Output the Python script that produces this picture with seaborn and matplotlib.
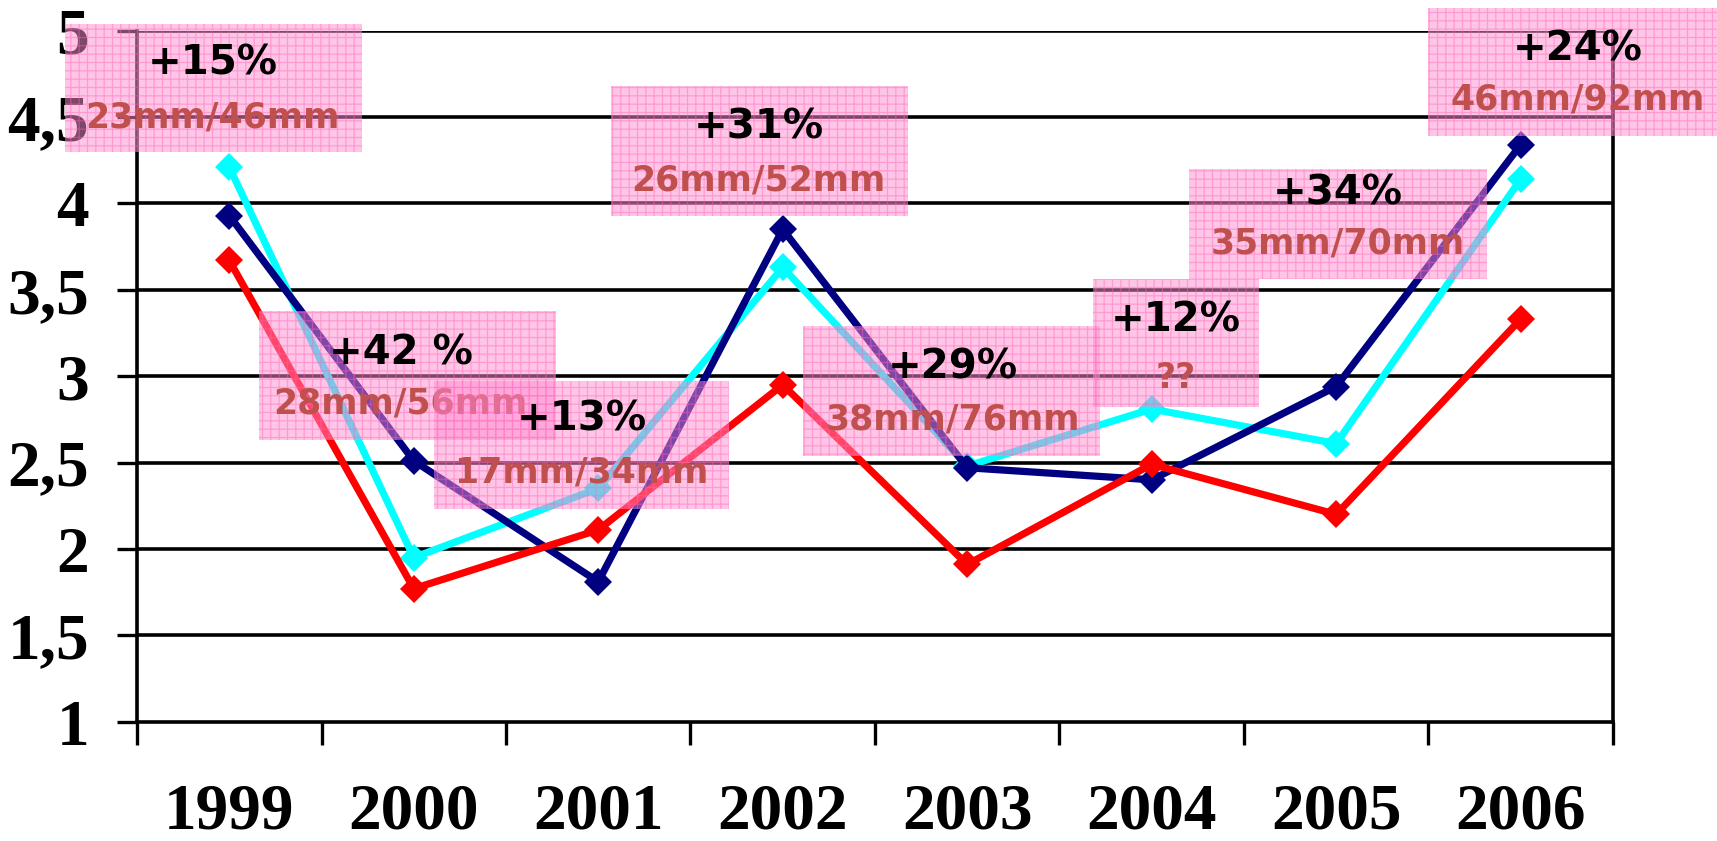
import pandas as pd
import matplotlib.pyplot as plt
from matplotlib.patches import Rectangle
import seaborn as sns

# ------------------------------
# Data
# ------------------------------
years = ["1999", "2000", "2001", "2002", "2003", "2004", "2005", "2006"]
navy_vals = [3.93, 2.51, 1.81, 3.85, 2.47, 2.40, 2.94, 4.34]
cyan_vals = [4.21, 1.95, 2.35, 3.63, 2.48, 2.81, 2.61, 4.14]
red_vals = [3.67, 1.77, 2.11, 2.95, 1.91, 2.49, 2.20, 3.33]

pct_labels = ["+15%", "+42 %", "+13%", "+31%", "+29%", "+12%", "+34%", "+24%"]
mm_labels = ["23mm/46mm", "28mm/56mm", "17mm/34mm", "26mm/52mm",
             "38mm/76mm", "??", "35mm/70mm", "46mm/92mm"]

y_ticks = [1, 1.5, 2, 2.5, 3, 3.5, 4, 4.5, 5]
y_tick_labels = ["1", "1,5", "2", "2,5", "3", "3,5", "4", "4,5", "5"]

# annotation boxes (x0, x1, y0, y1) in data units, text centres (x, y_pct, y_mm)
boxes = [(-0.89, 0.72, 4.30, 5.04), (0.16, 1.77, 2.63, 3.38), (1.11, 2.71, 2.23, 2.97),
         (2.07, 3.68, 3.93, 4.68), (3.11, 4.72, 2.54, 3.29), (4.68, 5.58, 2.82, 3.56),
         (5.20, 6.82, 3.56, 4.20), (6.50, 8.08, 4.39, 5.13)]
text_pos = [(-0.09, 4.81, 4.50), (0.93, 3.13, 2.84), (1.91, 2.75, 2.44),
            (2.87, 4.44, 4.13), (3.92, 3.05, 2.75), (5.13, 3.32, 2.99),
            (6.01, 4.06, 3.77), (7.31, 4.89, 4.60)]

df = pd.DataFrame({
    "idx": list(range(len(years))) * 3,
    "value": cyan_vals + navy_vals + red_vals,
    "series": ["cyan"] * 8 + ["navy"] * 8 + ["red"] * 8,
})
palette = {"cyan": "#00FFFF", "navy": "#000080", "red": "#FF0000"}

sns.set_theme(style="white")
plt.rcParams["hatch.linewidth"] = 0.9
plt.rcParams["text.color"] = "black"
plt.rcParams["xtick.color"] = "black"
plt.rcParams["ytick.color"] = "black"

fig = plt.figure(figsize=(17.17, 8.41), dpi=100)
ax = fig.add_axes([0.0798, 0.1419, 0.8596, 0.8216])

sns.lineplot(data=df, x="idx", y="value", hue="series", hue_order=["cyan", "navy", "red"],
             palette=palette, marker="D", markersize=14, markeredgewidth=0,
             linewidth=5.2, legend=False, ax=ax)

ax.set_xlim(-0.5, 7.5)
ax.set_ylim(1, 5)
ax.set_xlabel("")
ax.set_ylabel("")

# gridlines
for yv in y_ticks[1:]:
    ax.axhline(yv, color="black", lw=2.6, zorder=1)

# spines
for side in ["left", "right", "bottom"]:
    ax.spines[side].set_visible(True)
    ax.spines[side].set_color("black")
    ax.spines[side].set_linewidth(2.6)
ax.spines["top"].set_visible(False)

# ticks
tick_font = {"family": "Liberation Serif", "weight": "bold", "size": 47, "color": "black"}
ax.set_yticks(y_ticks)
ax.set_yticklabels(y_tick_labels, fontdict=tick_font)
ax.tick_params(axis="y", which="major", left=True, direction="out", length=14.5,
               width=2.4, color="black", labelcolor="black", pad=20)

ax.set_xticks(range(len(years)))
ax.set_xticklabels(years, fontdict=tick_font)
ax.set_xticks([i - 0.5 for i in range(len(years) + 1)], minor=True)
ax.tick_params(axis="x", which="major", bottom=True, length=0, pad=44, labelcolor="black")
ax.tick_params(axis="x", which="minor", bottom=True, direction="out", length=16.5,
               width=2.4, color="black")

# annotation boxes
for i, ((x0, x1, y0, y1), (tx, ty1, ty2)) in enumerate(zip(boxes, text_pos)):
    rect = Rectangle((x0, y0), x1 - x0, y1 - y0,
                     facecolor=(1.0, 0.55, 0.82, 0.5),
                     edgecolor=(1.0, 0.4, 0.72, 0.45),
                     hatch="++", linewidth=0, clip_on=False, zorder=3 + 2 * i)
    ax.add_patch(rect)
    ax.text(tx, ty1, pct_labels[i], ha="center", va="center", fontsize=29,
            fontweight="bold", family="DejaVu Sans", color="black",
            clip_on=False, zorder=4 + 2 * i)
    ax.text(tx, ty2, mm_labels[i], ha="center", va="center", fontsize=25,
            fontweight="bold", family="DejaVu Sans", color="#C0504D",
            clip_on=False, zorder=4 + 2 * i)

fig.savefig("out.png", dpi=100)
